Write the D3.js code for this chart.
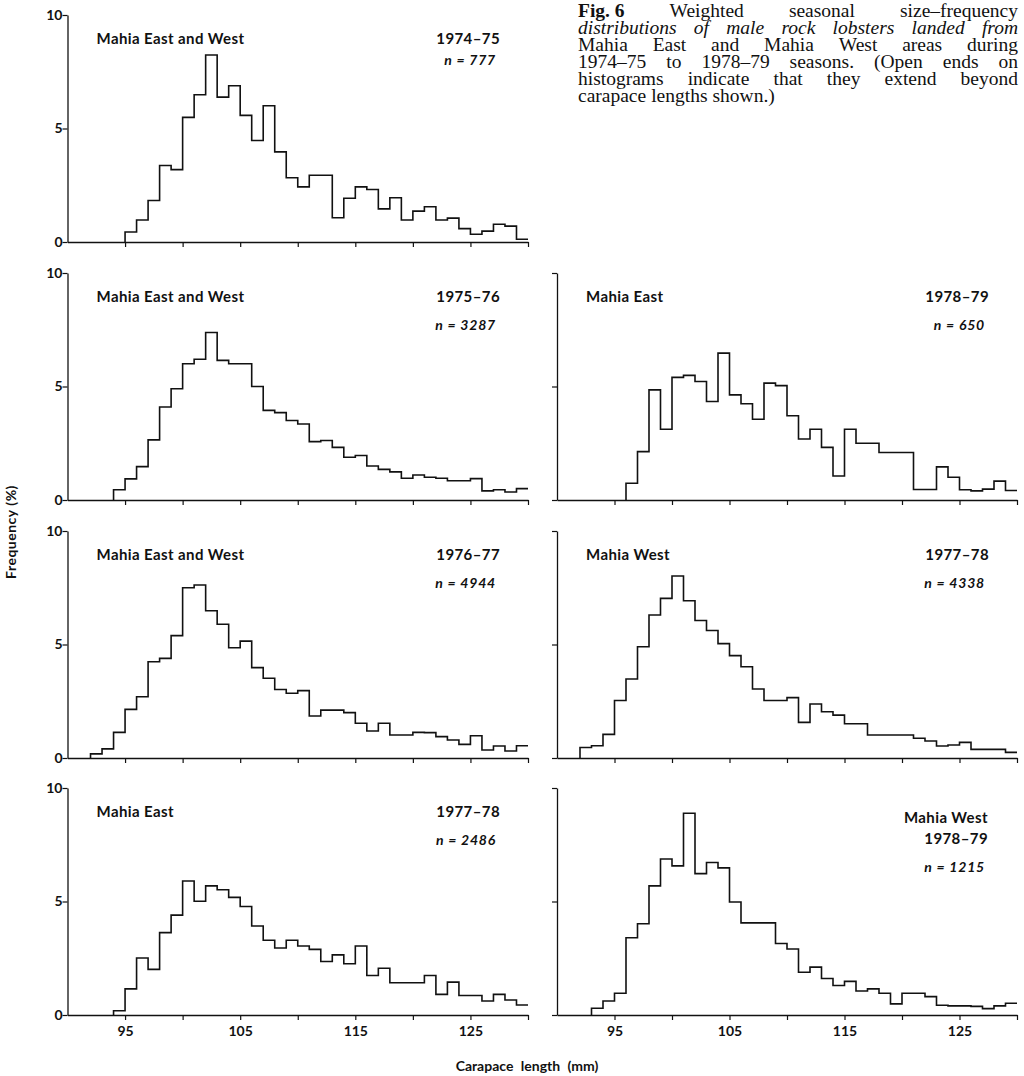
<!DOCTYPE html>
<html>
<head>
<meta charset="utf-8">
<script src="https://cdnjs.cloudflare.com/ajax/libs/d3/7.8.5/d3.min.js"></script>
<style>
  body { margin: 0; background: #fff; }
  svg { display: block; }
  .lab { font-family: Lato, "Open Sans", sans-serif; font-weight: 700; fill: #111; }
  .cap { font-family: "Liberation Serif", "Times New Roman", serif; fill: #111; }
</style>
</head>
<body>
<div id="chart"></div>
<script>
// size-frequency, % per 1 mm carapace length class (first value = class starting at startXXXX)
var start7475EW = 95;
var freq7475EW = [0.44, 0.97, 1.83, 3.37, 3.19, 5.49, 6.49, 8.24, 6.38, 6.88, 5.58, 4.47, 6.0, 3.97, 2.83,
  2.43, 2.94, 2.94, 1.07, 1.93, 2.43, 2.31, 1.46, 1.95, 0.97, 1.36, 1.55, 0.97, 1.05, 0.59, 0.34, 0.48, 0.78, 0.70, 0.12];

var start7576EW = 94;
var freq7576EW = [0.45, 0.93, 1.47, 2.65, 4.1, 4.9, 6.0, 6.2, 7.38, 6.15, 6.0, 6.0, 5.0, 3.95, 3.85, 3.5,
  3.35, 2.57, 2.62, 2.32, 1.88, 1.96, 1.5, 1.35, 1.24, 0.96, 1.1, 1.0, 0.96, 0.85, 0.85, 0.94, 0.4, 0.45, 0.35, 0.5];

var start7879E = 96;
var freq7879E = [0.74, 2.13, 4.85, 3.12, 5.4, 5.49, 5.22, 4.34, 6.47, 4.63, 4.24, 3.56, 5.15, 5.04, 3.71,
  2.69, 3.12, 2.32, 1.06, 3.12, 2.5, 2.5, 2.09, 2.09, 2.09, 0.46, 0.46, 1.46, 1.0, 0.45, 0.4, 0.48, 0.83, 0.42];

var start7677EW = 92;
var freq7677EW = [0.18, 0.40, 1.13, 2.14, 2.70, 4.24, 4.39, 5.39, 7.5, 7.62, 6.49, 5.89, 4.86, 5.15, 3.98,
  3.51, 3.02, 2.85, 2.97, 1.85, 2.11, 2.11, 2.0, 1.53, 1.19, 1.53, 1.01, 1.01, 1.13, 1.12, 0.94, 0.79, 0.60,
  0.98, 0.35, 0.53, 0.31, 0.54];

var start7778W = 92;
var freq7778W = [0.46, 0.54, 1.04, 2.53, 3.48, 4.9, 6.3, 7.03, 8.02, 6.93, 6.06, 5.62, 5.04, 4.51, 4.02,
  3.04, 2.53, 2.53, 2.66, 1.57, 2.38, 2.04, 1.89, 1.51, 1.51, 1.01, 1.01, 1.01, 1.01, 0.87, 0.75, 0.53, 0.57,
  0.69, 0.38, 0.38, 0.38, 0.25];

var start7778E = 94;
var freq7778E = [0.19, 1.15, 2.51, 2.01, 3.63, 4.4, 5.9, 5.01, 5.69, 5.52, 5.18, 4.78, 3.92, 3.29, 2.95,
  3.29, 3.04, 2.89, 2.36, 2.65, 2.26, 3.04, 1.74, 2.06, 1.42, 1.42, 1.42, 1.74, 0.91, 1.45, 0.86, 0.86, 0.62,
  0.91, 0.66, 0.44];

var start7879W = 93;
var freq7879W = [0.30, 0.62, 0.96, 3.40, 4.02, 5.69, 6.87, 6.57, 8.89, 6.23, 6.72, 6.48, 4.98, 4.06, 4.06,
  4.06, 3.15, 2.91, 1.88, 2.11, 1.61, 1.30, 1.48, 1.06, 1.15, 0.96, 0.49, 0.96, 0.96, 0.81, 0.43, 0.40, 0.40,
  0.38, 0.28, 0.40, 0.52];

var xTicks = [95, 100, 105, 110, 115, 120, 125, 130];
var xTickLabels = [95, 105, 115, 125];
var yTicks = [0, 5, 10];

var captionLines = [
  "Weighted seasonal size\u2013frequency",
  "distributions of male rock lobsters landed from",
  "Mahia East and Mahia West areas during",
  "1974\u201375 to 1978\u201379 seasons. (Open ends on",
  "histograms indicate that they extend beyond",
  "carapace lengths shown.)"
];

var W = 1024, H = 1076;
var colX = [[67.5, 528], [557, 1017]];
var rowTop = [15, 273, 531, 788];
var rowH = 227;

var panels = [
  {col: 0, row: 0, area: "Mahia East and West", season: "1974\u201375", n: "n = 777", start: start7475EW, freq: freq7475EW, nOff: 50},
  {col: 0, row: 1, area: "Mahia East and West", season: "1975\u201376", n: "n = 3287", start: start7576EW, freq: freq7576EW},
  {col: 1, row: 1, area: "Mahia East", season: "1978\u201379", n: "n = 650", start: start7879E, freq: freq7879E},
  {col: 0, row: 2, area: "Mahia East and West", season: "1976\u201377", n: "n = 4944", start: start7677EW, freq: freq7677EW},
  {col: 1, row: 2, area: "Mahia West", season: "1977\u201378", n: "n = 4338", start: start7778W, freq: freq7778W},
  {col: 0, row: 3, area: "Mahia East", season: "1977\u201378", n: "n = 2486", start: start7778E, freq: freq7778E},
  {col: 1, row: 3, area: "Mahia West", season: "1978\u201379", n: "n = 1215", start: start7879W, freq: freq7879W, stack: true}
];

var svg = d3.select("#chart").append("svg")
  .attr("width", W)
  .attr("height", H);

function label(g, txt, x, y, anchor, italic) {
  return g.append("text").attr("class", "lab")
    .attr("font-size", italic ? 14 : 15)
    .attr("letter-spacing", italic ? 0.8 : 0.4)
    .attr("font-style", italic ? "italic" : "normal")
    .attr("text-anchor", anchor)
    .attr("x", x).attr("y", y).text(txt);
}

panels.forEach(function(p) {
  var x = d3.scaleLinear().domain([90, 130]).range(colX[p.col]);
  var y = d3.scaleLinear().domain([0, 10]).range([rowTop[p.row] + rowH, rowTop[p.row]]);
  var g = svg.append("g");
  var bottomRow = p.row === 3;

  var xAxis = d3.axisBottom(x).tickValues(xTicks).tickSize(5).tickSizeOuter(0)
    .tickFormat(function(d) { return bottomRow && xTickLabels.indexOf(d) >= 0 ? d : ""; });
  var ax = g.append("g").attr("transform", "translate(0," + y(0) + ")").call(xAxis);

  var yAxis = d3.axisLeft(y).tickValues(yTicks).tickSize(5).tickSizeOuter(0)
    .tickFormat(function(d) { return p.col === 0 ? d : ""; });
  var ay = g.append("g").attr("transform", "translate(" + x(90) + ",0)").call(yAxis);

  [ax, ay].forEach(function(a) {
    a.select(".domain").attr("stroke", "#111").attr("stroke-width", 1.3);
    a.selectAll(".tick line").attr("stroke", "#111").attr("stroke-width", 1.2);
    a.selectAll(".tick text").attr("class", "lab").attr("font-size", 14).attr("fill", "#111");
  });
  ax.selectAll(".tick text").attr("dy", "0.95em");
  ay.selectAll(".tick text").attr("x", -5);

  // histogram outline; right end left open
  var pts = [[p.start, 0]];
  p.freq.forEach(function(v, i) { pts.push([p.start + i, v]); });
  pts.push([p.start + p.freq.length, p.freq[p.freq.length - 1]]);
  var line = d3.line().x(function(d) { return x(d[0]); }).y(function(d) { return y(d[1]); })
    .curve(d3.curveStepAfter);
  g.append("path").attr("d", line(pts))
    .attr("fill", "none").attr("stroke", "#111").attr("stroke-width", 1.6);

  var top = rowTop[p.row];
  var x0 = colX[p.col][0], x1 = colX[p.col][1];
  if (p.stack) {
    label(g, p.area, x1 - 29, top + 35, "end");
    label(g, p.season, x1 - 29, top + 56, "end");
    label(g, p.n, x1 - 32, top + 84, "end", true);
  } else {
    label(g, p.area, x0 + 29, top + 29, "start");
    label(g, p.season, x1 - 28, top + 29, "end");
    label(g, p.n, x1 - 32, top + (p.nOff || 57), "end", true);
  }
});

// axis titles
svg.append("text").attr("class", "lab").attr("font-size", 14).attr("letter-spacing", 0.5)
  .attr("transform", "translate(16,532) rotate(-90)").attr("text-anchor", "middle")
  .text("Frequency (%)");
svg.append("text").attr("class", "lab").attr("font-size", 14)
  .attr("x", 527).attr("y", 1071).attr("text-anchor", "middle")
  .attr("word-spacing", 4).text("Carapace length  (mm)");

// caption, justified
var capX0 = 578, capX1 = 1018, capY = 17, capLead = 17;
captionLines.forEach(function(ln, i) {
  var words = ln.split(" ");
  var italic = i === 1;
  var items = [];
  if (i === 0) items.push({t: "Fig. 6", bold: true});
  words.forEach(function(w) { items.push({t: w}); });
  var tg = svg.append("g");
  var nodes = items.map(function(it) {
    return tg.append("text").attr("class", "cap").attr("font-size", 19.5)
      .attr("font-weight", it.bold ? 700 : 400)
      .attr("font-style", italic ? "italic" : "normal")
      .attr("y", capY + i * capLead).text(it.t);
  });
  var widths = nodes.map(function(n) { return n.node().getComputedTextLength(); });
  var total = d3.sum(widths);
  var last = i === captionLines.length - 1;
  var gap = last ? 5 : (capX1 - capX0 - total) / (nodes.length - 1);
  var cx = capX0;
  nodes.forEach(function(n, k) { n.attr("x", cx); cx += widths[k] + gap; });
});
</script>
</body>
</html>
